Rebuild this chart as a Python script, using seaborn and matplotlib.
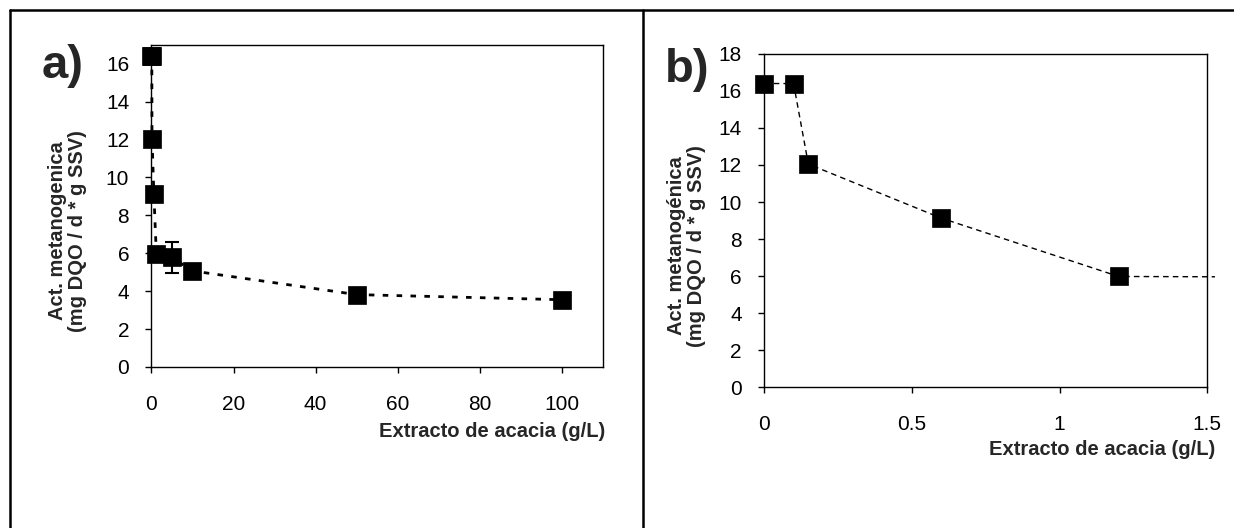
import numpy as np
import pandas as pd
import seaborn as sns
import matplotlib
matplotlib.use("Agg")
import matplotlib.pyplot as plt
from matplotlib.lines import Line2D
from matplotlib.patches import Rectangle

# Methanogenic activity versus acacia extract concentration
extract_gL = [0, 0.1, 0.15, 0.6, 1.2, 5, 10, 50, 100]
activity = [16.4, 16.4, 12.05, 9.13, 5.98, 5.78, 5.07, 3.82, 3.55]
activity_err = [0, 0, 0, 0, 0, 0.8, 0, 0, 0]

xticks_a = [0, 20, 40, 60, 80, 100]
yticks_a = [0, 2, 4, 6, 8, 10, 12, 14, 16]
xticks_b = [0, 0.5, 1, 1.5]
xticklabels_b = ["0", "0.5", "1", "1.5"]
yticks_b = [0, 2, 4, 6, 8, 10, 12, 14, 16, 18]

ylabel_a = "Act. metanogenica\n(mg DQO / d * g SSV)"
ylabel_b = "Act. metanogénica\n(mg DQO / d * g SSV)"
xlabel = "Extracto de acacia (g/L)"

df = pd.DataFrame({"x": extract_gL, "y": activity, "err": activity_err})

sns.set_style("ticks")
plt.rcParams["font.family"] = ["Liberation Sans", "DejaVu Sans"]
plt.rcParams["axes.linewidth"] = 1.0

W, H = 1234, 528
fig = plt.figure(figsize=(W / 100, H / 100), dpi=100)

def fig_axes(left, top, right, bottom):
    return fig.add_axes([left / W, 1 - bottom / H, (right - left) / W, (bottom - top) / H])

ax_a = fig_axes(151.4, 44.8, 603, 367)
ax_b = fig_axes(764, 53.9, 1207.3, 387.2)

marker_kw = dict(marker="s", markersize=13, markerfacecolor="black",
                 markeredgecolor="black", markeredgewidth=0.5, color="black")

# Panel a: full concentration range
sns.lineplot(data=df, x="x", y="y", ax=ax_a, linewidth=2.0,
             linestyle=(0, (2, 3)), clip_on=False, **marker_kw)
err = df[df["err"] > 0]
ax_a.errorbar(err["x"], err["y"], yerr=err["err"], fmt="none",
              ecolor="black", elinewidth=1.5, capsize=5, capthick=1.5, clip_on=False)
ax_a.set_xlim(0, 110)
ax_a.set_ylim(0, 17)
ax_a.set_xticks(xticks_a)
ax_a.set_yticks(yticks_a)

# Panel b: detail of the low concentrations
sns.lineplot(data=df, x="x", y="y", ax=ax_b, linewidth=1.0,
             linestyle=(0, (4, 3)), **marker_kw)
clip_rect = Rectangle((-0.03, -0.03), 1.048, 1.06, transform=ax_b.transAxes,
                      facecolor="none", edgecolor="none")
for ln in ax_b.lines:
    ln.set_clip_path(clip_rect)
ax_b.set_xlim(0, 1.5)
ax_b.set_ylim(0, 18)
ax_b.set_xticks(xticks_b)
ax_b.set_xticklabels(xticklabels_b)
ax_b.set_yticks(yticks_b)

for ax, ylab, xlab_pos, ylab_pos in [
    (ax_a, ylabel_a, (1.004, -0.199), (-0.185, 0.423)),
    (ax_b, ylabel_b, (1.017, -0.187), (-0.175, 0.424)),
]:
    ax.tick_params(axis="both", direction="out", length=4, width=1,
                   labelsize=15, color="black", labelcolor="black")
    ax.tick_params(axis="x", pad=16)
    ax.tick_params(axis="y", pad=12)
    for s in ax.spines.values():
        s.set_visible(True)
        s.set_color("black")
    ax.set_xlabel(xlabel, fontsize=14.5, fontweight="bold", loc="right")
    ax.xaxis.set_label_coords(*xlab_pos)
    ax.xaxis.label.set_va("center")
    ax.set_ylabel(ylab, fontsize=14.5, fontweight="bold", linespacing=1.05)
    ax.yaxis.set_label_coords(*ylab_pos)
    ax.yaxis.label.set_va("center")
    ax.yaxis.label.set_ha("center")

fig.text(63 / W, 1 - 66 / H, "a)", fontsize=34, fontweight="bold", ha="center", va="center")
fig.text(687 / W, 1 - 70 / H, "b)", fontsize=34, fontweight="bold", ha="center", va="center")

# Panel frame
frame_kw = dict(color="black", linewidth=1.8, transform=fig.transFigure)
fig.add_artist(Line2D([9.5 / W, 9.5 / W], [1 - 10 / H, 0], **frame_kw))
fig.add_artist(Line2D([9.5 / W, 1], [1 - 10 / H, 1 - 10 / H], **frame_kw))
fig.add_artist(Line2D([643 / W, 643 / W], [1 - 10 / H, 0], **frame_kw))

fig.savefig("out.png", dpi=100, facecolor="white")
